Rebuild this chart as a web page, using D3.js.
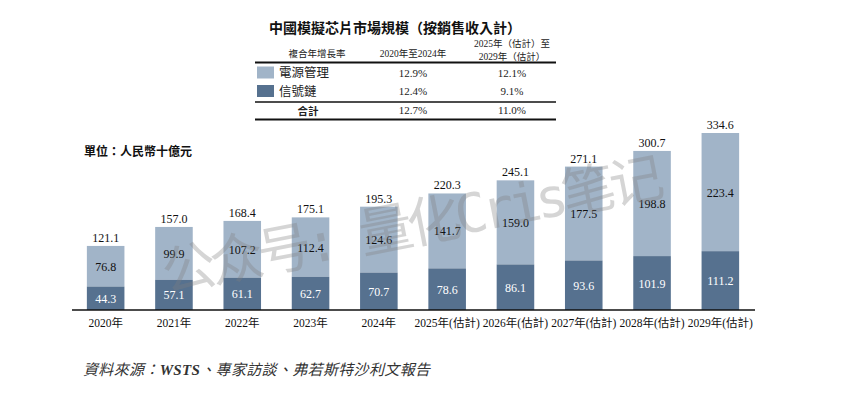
<!DOCTYPE html>
<html><head><meta charset="utf-8">
<script src="https://cdn.jsdelivr.net/npm/d3@7/dist/d3.min.js"></script>
<style>
body{margin:0;background:#fff;}
svg{display:block;}
text{font-family:"Liberation Serif","Noto Sans CJK TC",serif;}
</style></head>
<body><svg id="c" width="854" height="395"></svg>
<script>
const categories = ["2020年","2021年","2022年","2023年","2024年","2025年(估計)","2026年(估計)","2027年(估計)","2028年(估計)","2029年(估計)"];
const signalChain = [44.3,57.1,61.1,62.7,70.7,78.6,86.1,93.6,101.9,111.2];
const powerMgmt = [76.8,99.9,107.2,112.4,124.6,141.7,159.0,177.5,198.8,223.4];
const totals = [121.1,157.0,168.4,175.1,195.3,220.3,245.1,271.1,300.7,334.6];
const seriesNames = ["電源管理","信號鏈"];
const cagr2020_2024 = ["12.9%","12.4%","12.7%"];
const cagr2025_2029 = ["12.1%","9.1%","11.0%"];
const colors = {power:"#a1b4c8", signal:"#56718f"};

const svg = d3.select("#c");

// ---- Table ----
svg.append("text").attr("x",395).attr("y",33).attr("text-anchor","middle")
  .attr("font-size",14).attr("font-weight","bold").attr("fill","#111")
  .text("中國模擬芯片市場規模（按銷售收入計）");
const hdr = svg.append("g").attr("font-size",9.5).attr("fill","#222").attr("text-anchor","middle");
hdr.append("text").attr("x",317).attr("y",57).text("複合年增長率");
hdr.append("text").attr("x",413).attr("y",57).text("2020年至2024年");
hdr.append("text").attr("x",512).attr("y",47).text("2025年（估計）至");
hdr.append("text").attr("x",512).attr("y",60).text("2029年（估計）");
svg.append("line").attr("x1",255).attr("x2",556).attr("y1",62.5).attr("y2",62.5).attr("stroke","#111").attr("stroke-width",2);
svg.append("line").attr("x1",255).attr("x2",556).attr("y1",102).attr("y2",102).attr("stroke","#111").attr("stroke-width",1.5);
svg.append("line").attr("x1",255).attr("x2",556).attr("y1",119.5).attr("y2",119.5).attr("stroke","#111").attr("stroke-width",2);
const rowsY = [72.5, 91];
[colors.power, colors.signal].forEach((c,i)=>{
  svg.append("rect").attr("x",257).attr("y",rowsY[i]-6).attr("width",17).attr("height",12).attr("fill",c);
  svg.append("text").attr("x",279).attr("y",rowsY[i]+4.5).attr("font-size",12.5).attr("fill","#222").text(seriesNames[i]);
});
svg.append("text").attr("x",308).attr("y",114.5).attr("text-anchor","middle").attr("font-size",10.5).attr("font-weight","bold").attr("fill","#222").text("合計");
[rowsY[0], rowsY[1], 110].forEach((y,i)=>{
  svg.append("text").attr("x",413).attr("y",y+4).attr("text-anchor","middle").attr("font-size",11).attr("fill","#222").text(cagr2020_2024[i]);
  svg.append("text").attr("x",512).attr("y",y+4).attr("text-anchor","middle").attr("font-size",11).attr("fill","#222").text(cagr2025_2029[i]);
});

// ---- Unit ----
svg.append("text").attr("x",84).attr("y",156).attr("font-size",12).attr("font-weight","bold").attr("fill","#111").text("單位：人民幣十億元");

// ---- Bars ----
const x = d3.scaleBand().domain(categories).range([71.5,754.5]).paddingInner(0.45).paddingOuter(0.225);
const y = d3.scaleLinear().domain([0,334.6]).range([310,133]);

const g = svg.append("g");
categories.forEach((c,i)=>{
  const x0 = x(c), w = x.bandwidth(), cx = x0 + w/2;
  g.append("rect").attr("x",x0).attr("y",y(totals[i])).attr("width",w).attr("height",y(signalChain[i])-y(totals[i])).attr("fill",colors.power);
  g.append("rect").attr("x",x0).attr("y",y(signalChain[i])).attr("width",w).attr("height",y(0)-y(signalChain[i])).attr("fill",colors.signal);
  g.append("text").attr("x",cx).attr("y",(y(0)+y(signalChain[i]))/2+4.5).attr("text-anchor","middle").attr("font-size",12).attr("fill","#fff").text(signalChain[i].toFixed(1));
  g.append("text").attr("x",cx).attr("y",(y(signalChain[i])+y(totals[i]))/2+4.5).attr("text-anchor","middle").attr("font-size",12).attr("fill","#111").text(powerMgmt[i].toFixed(1));
  g.append("text").attr("x",cx).attr("y",y(totals[i])-4).attr("text-anchor","middle").attr("font-size",12).attr("fill","#111").text(totals[i].toFixed(1));
});

// axis
const ax = svg.append("g").attr("transform","translate(0,310)").call(d3.axisBottom(x).tickSize(0).tickPadding(9));
ax.select(".domain").attr("stroke","#111").attr("stroke-width",1.5).attr("d","M72,0H755");
ax.selectAll("text").attr("font-size",11.5).attr("fill","#111").attr("font-family",null);

// ---- Source ----
const src = svg.append("text").attr("x",83).attr("y",375).attr("font-size",15).attr("font-style","italic").attr("fill","#333");
src.append("tspan").text("資料來源：");
src.append("tspan").attr("font-weight","bold").text("WSTS");
src.append("tspan").text("、專家訪談、弗若斯特沙利文報告");
src.attr("textLength",347).attr("lengthAdjust","spacing");

// ---- Watermark ----
svg.append("text").attr("transform","translate(166,292) rotate(-11)")
  .attr("font-size",54).attr("fill","#808080").attr("fill-opacity",0.33)
  .style("font-family",'"DejaVu Sans Mono","Noto Sans CJK SC",monospace')
  .attr("textLength",510).attr("lengthAdjust","spacing")
  .text("公众号: 量化Cris笔记");
</script></body></html>
